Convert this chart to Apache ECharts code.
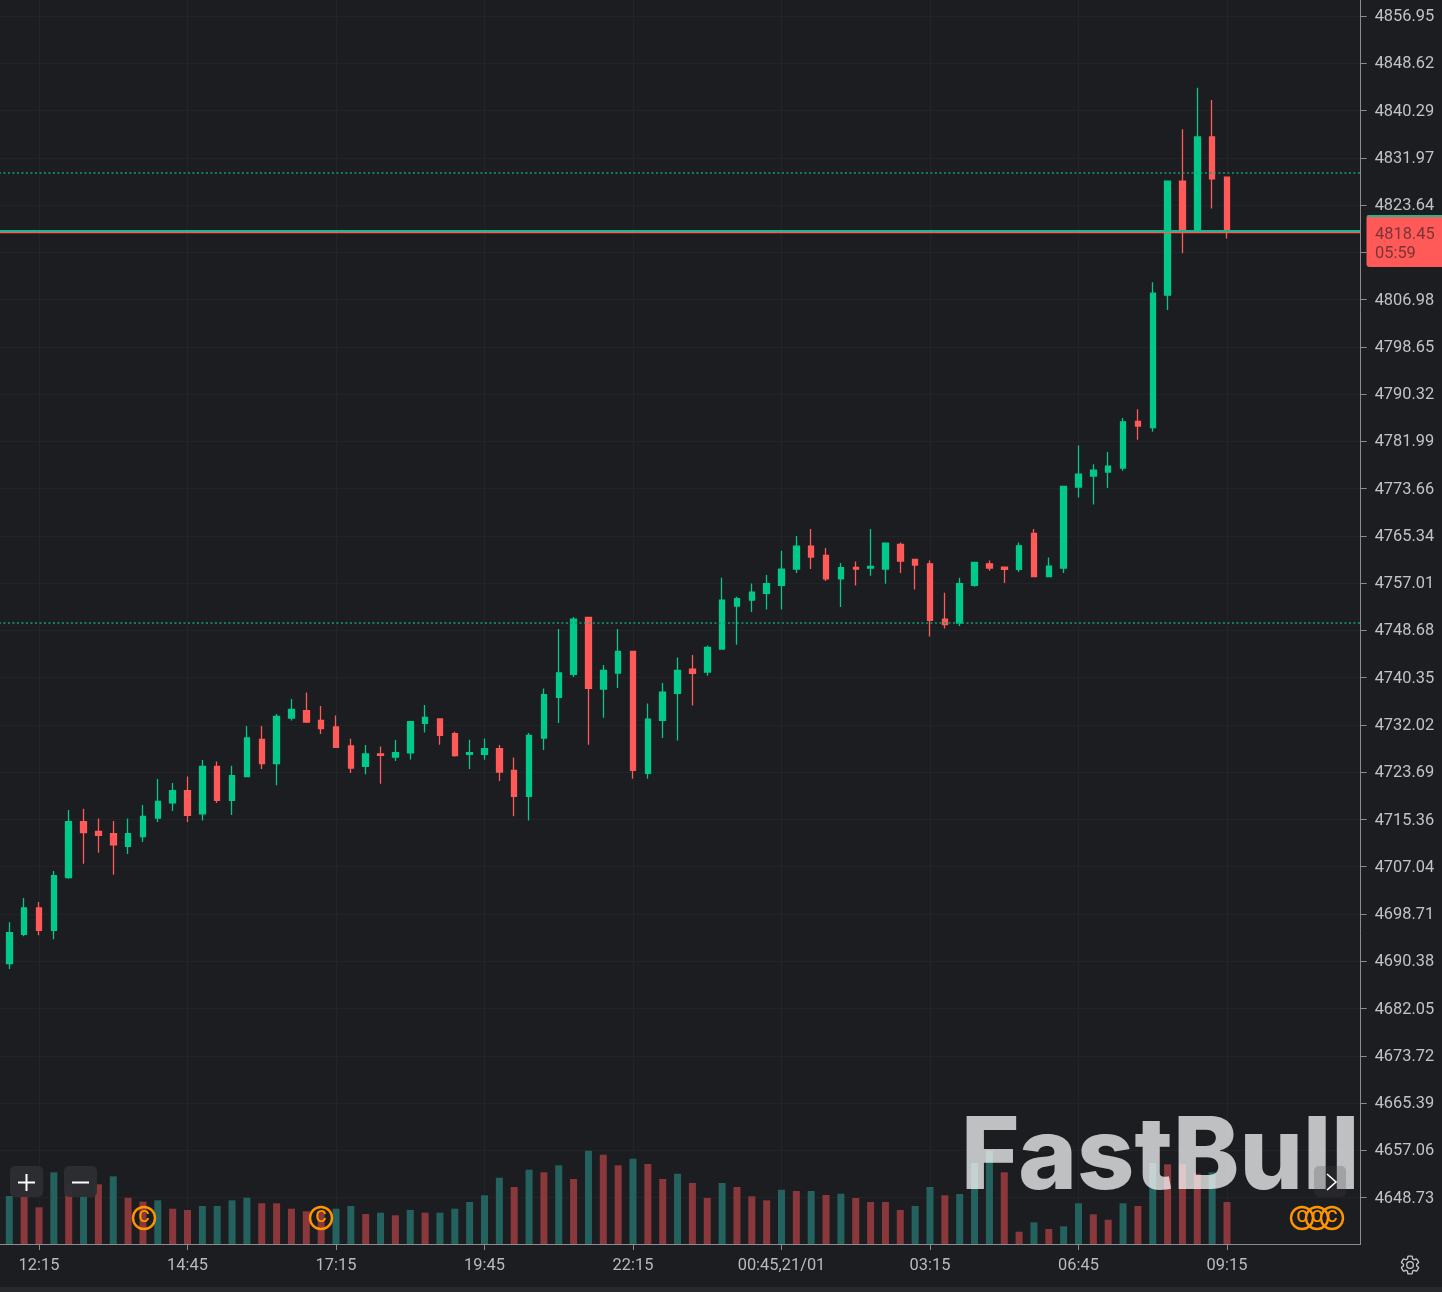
<!DOCTYPE html>
<html>
<head>
<meta charset="utf-8">
<title>FastBull</title>
<style>
html,body{margin:0;padding:0;background:#1c1d21;}
#main{width:1442px;height:1292px;}
</style>
<script src="https://cdn.jsdelivr.net/npm/echarts@6/dist/echarts.min.js"></script>
</head>
<body>
<div id="main"></div>
<script>
var times = ['11:45','12:00','12:15','12:30','12:45','13:00','13:15','13:30','13:45','14:00',
  '14:15','14:30','14:45','15:00','15:15','15:30','15:45','16:00','16:15','16:30',
  '16:45','17:00','17:15','17:30','17:45','18:00','18:15','18:30','18:45','19:00',
  '19:15','19:30','19:45','20:00','20:15','20:30','20:45','21:00','21:15','21:30',
  '21:45','22:00','22:15','22:30','22:45','23:00','23:15','23:30','23:45','00:00',
  '00:15','00:30','00:45,21/01','01:00','01:15','01:30','01:45','02:00','02:15','02:30',
  '02:45','03:00','03:15','03:30','03:45','04:00','04:15','04:30','05:45','06:00',
  '06:15','06:30','06:45','07:00','07:15','07:30','07:45','08:00','08:15','08:30',
  '08:45','09:00','09:15'];
var timeLabels = ['12:15','14:45','17:15','19:45','22:15','00:45,21/01','03:15','06:45','09:15'];

var opens = [4689.96,4695.12,4699.77,4695.83,4705.11,4714.97,4713.27,4712.86,4710.62,4712.33,
  4715.62,4718.27,4720.43,4716.33,4724.72,4718.73,4722.90,4729.47,4725.19,4733.24,
  4734.53,4732.82,4731.66,4728.31,4724.72,4726.90,4726.37,4727.08,4732.29,4733.07,
  4730.48,4726.83,4726.83,4727.83,4724.01,4719.43,4729.72,4736.87,4740.92,4750.96,
  4738.35,4741.17,4744.97,4723.48,4732.82,4737.57,4741.87,4741.34,4745.40,4752.97,
  4754.03,4755.19,4756.60,4759.49,4763.54,4761.88,4757.78,4759.77,4759.66,4759.49,
  4763.82,4761.18,4760.42,4750.68,4749.97,4756.60,4760.42,4759.84,4759.42,4765.76,
  4758.18,4759.66,4773.93,4775.87,4776.58,4777.28,4785.49,4784.43,4807.75,4827.83,
  4818.85,4835.64,4828.54];
var closes = [4695.42,4699.77,4695.83,4705.46,4714.97,4713.04,4712.56,4710.87,4712.86,4715.91,
  4718.55,4720.43,4716.08,4724.72,4718.73,4723.08,4729.72,4725.19,4733.52,4734.76,
  4732.54,4731.36,4728.06,4724.43,4726.90,4726.65,4727.13,4732.59,4733.35,4730.18,
  4726.60,4727.13,4727.83,4723.73,4719.43,4730.18,4737.35,4741.17,4750.68,4738.46,
  4741.63,4744.97,4724.01,4733.06,4737.82,4741.63,4741.10,4745.68,4754.03,4754.26,
  4755.43,4756.90,4759.49,4763.54,4761.60,4757.78,4759.72,4759.49,4759.95,4764.07,
  4760.90,4760.19,4750.43,4749.68,4756.90,4760.65,4759.66,4759.42,4763.59,4758.18,
  4760.02,4774.04,4776.22,4776.93,4777.63,4785.43,4784.68,4808.10,4827.83,4819.03,
  4835.64,4828.24,4819.03];
var lows = [4689.03,4694.77,4694.94,4694.24,4704.93,4707.58,4709.51,4705.64,4709.28,4711.40,
  4714.92,4716.86,4714.92,4715.20,4718.27,4716.15,4722.78,4724.26,4721.37,4732.82,
  4732.36,4730.42,4728.06,4723.55,4723.31,4721.67,4725.67,4725.95,4730.70,4728.54,
  4726.42,4724.26,4725.90,4722.14,4715.91,4715.20,4727.60,4732.36,4740.46,4728.54,
  4733.29,4738.52,4722.55,4722.55,4729.72,4729.29,4735.46,4740.69,4745.40,4746.15,
  4751.91,4752.37,4752.37,4758.78,4759.49,4757.37,4752.79,4756.60,4758.31,4756.90,
  4758.78,4755.89,4747.62,4749.02,4749.45,4756.37,4759.19,4757.02,4758.96,4758.08,
  4758.08,4758.78,4772.10,4770.87,4773.76,4776.80,4782.26,4783.67,4805.16,4815.15,
  4818.67,4823.01,4817.72];
var highs = [4697.24,4701.53,4700.83,4706.29,4717.03,4717.26,4715.55,4715.10,4715.55,4717.92,
  4722.49,4721.79,4722.95,4725.84,4725.59,4724.84,4731.83,4731.83,4733.95,4736.59,
  4737.75,4735.35,4733.70,4729.59,4728.48,4728.24,4729.37,4732.59,4735.53,4733.12,
  4730.83,4729.42,4729.65,4728.48,4726.30,4730.60,4738.46,4748.92,4751.03,4751.03,
  4742.58,4748.92,4744.97,4735.81,4739.41,4743.92,4744.34,4746.03,4757.96,4754.61,
  4756.95,4758.43,4762.71,4765.30,4766.53,4763.18,4760.54,4760.83,4766.53,4764.17,
  4764.17,4761.25,4761.00,4755.31,4757.96,4760.72,4761.00,4759.95,4764.17,4766.53,
  4761.53,4774.11,4781.26,4777.98,4780.10,4786.09,4787.67,4810.04,4827.89,4836.99,
  4844.32,4842.15,4828.64];

var volumes = [48,48,36.7,71.7,60,48,59.7,67.7,46.3,42.3,
  43.7,35.3,34,38,38,43.7,46.3,40.7,40.7,35.3,
  32.7,33,35.3,38,30,31.3,28.7,34,31.3,31.3,
  35.3,42,48.7,66.3,57,74.3,71.7,78.7,65,93.3,
  89.3,78.7,85.3,80,65,70.3,61,46,61,57,
  47.7,43.7,54.3,53,53,49,50.3,46,42,42,
  34,38,57,48.7,50,81,93.7,71.7,12.3,21.7,
  15,17.7,40.7,29.7,24.3,40.7,38,81,79.7,79.7,
  70.3,71.7,42];
var volumeUp = [1,0,0,1,0,1,0,1,0,0,
  1,0,0,1,1,1,1,0,0,0,
  0,0,1,1,0,1,0,1,0,1,
  1,1,1,1,0,1,0,1,0,1,
  0,0,1,0,0,1,0,0,1,0,
  0,0,1,0,1,0,1,0,0,0,
  0,1,1,0,1,1,1,0,0,1,
  0,1,1,0,0,1,0,1,0,0,
  0,1,0];

var priceTicks = [4648.73,4657.06,4665.39,4673.72,4682.05,4690.38,4698.71,4707.04,4715.36,4723.69,
  4732.02,4740.35,4748.68,4757.01,4765.34,4773.66,4781.99,4790.32,4798.65,4806.98,
  4815.31,4823.64,4831.97,4840.29,4848.62,4856.95];
var hiddenPriceLabel = 4815.31;
var lastLine = 4819.05;
var levels = [4829.29, 4750.03];
var lastPrice = '4818.45';
var countdown = '05:59';

var UP = '#00c98b', DOWN = '#ff5a58', FONT = 'Roboto', LABEL_SIZE = 16.4;

// graphic has no plain path type, so the settings icon gets its own shape
echarts.graphic.registerShape('gear', echarts.graphic.extendPath(
  'M19.14 12.94c.04-.3.06-.61.06-.94 0-.32-.02-.64-.07-.94l2.03-1.58c.18-.14.23-.41.12-.61l-1.92-3.32c-.12-.22-.37-.29-.59-.22l-2.39.96c-.5-.38-1.03-.7-1.62-.94l-.36-2.54c-.04-.24-.24-.41-.48-.41h-3.84c-.24 0-.43.17-.47.41l-.36 2.54c-.59.24-1.13.57-1.62.94l-2.39-.96c-.22-.08-.47 0-.59.22L2.74 8.87c-.12.21-.08.47.12.61l2.03 1.58c-.05.3-.09.63-.09.94s.02.64.07.94l-2.03 1.58c-.18.14-.23.41-.12.61l1.92 3.32c.12.22.37.29.59.22l2.39-.96c.5.38 1.03.7 1.62.94l.36 2.54c.05.24.24.41.48.41h3.84c.24 0 .44-.17.47-.41l.36-2.54c.59-.24 1.13-.56 1.62-.94l2.39.96c.22.08.47 0 .59-.22l1.92-3.32c.12-.22.07-.47-.12-.61l-2.01-1.58zM12 15.6c-1.98 0-3.6-1.62-3.6-3.6s1.62-3.6 3.6-3.6 3.6 1.62 3.6 3.6-1.62 3.6-3.6 3.6z',
  {}
));

// one blank slot before the first candle and nine after the last, the chart leaves room on both sides
var categories = [''].concat(times);
for (var k = 0; k < 9; k++) categories.push('');

function isTimeTick(i) { return timeLabels.indexOf(categories[i]) >= 0; }

var candles = times.map(function (t, i) {
  return [i + 1, opens[i], closes[i], lows[i], highs[i]];
});
var volumeBars = times.map(function (t, i) {
  return { value: [i + 1, volumes[i]], itemStyle: { color: volumeUp[i] ? '#24625f' : '#8a383b' } };
});

function button(x, w) {
  return { type: 'rect', z: 60, shape: { x: x, y: 1166, width: w, height: 31, r: 5 }, style: { fill: 'rgba(44,46,51,0.95)' } };
}
function glyphLine(x1, y1, x2, y2) {
  return { type: 'line', z: 61, shape: { x1: x1, y1: y1, x2: x2, y2: y2 }, style: { stroke: '#fff', lineWidth: 2 } };
}
function copyMark(x) {
  return [
    { type: 'circle', z: 50, shape: { cx: x, cy: 1218, r: 11 }, style: { fill: 'transparent', stroke: '#ff9500', lineWidth: 2.4 } },
    { type: 'text', z: 51, x: x, y: 1218, style: { text: 'C', fill: '#ff9500', font: '500 17px ' + FONT, align: 'center', verticalAlign: 'middle' } }
  ];
}

var myChart = echarts.init(document.getElementById('main'));
var option = {
  backgroundColor: '#1c1d21',
  animation: false,
  grid: [
    { left: -5.55, top: 0, width: 1366.2, height: 1244, outerBoundsMode: 'none' },
    { left: -5.55, top: 1144, width: 1366.2, height: 100, outerBoundsMode: 'none' }
  ],
  xAxis: [
    {
      type: 'category', gridIndex: 0, data: categories, boundaryGap: false,
      axisLine: { lineStyle: { color: '#8b8c91', width: 1 } },
      axisTick: { interval: isTimeTick, length: 6, lineStyle: { color: '#8b8c91' } },
      axisLabel: { interval: isTimeTick, color: '#b9babc', fontFamily: FONT, fontSize: LABEL_SIZE, margin: 14 },
      splitLine: { show: true, interval: isTimeTick, lineStyle: { color: '#222428', width: 1 } }
    },
    {
      type: 'category', gridIndex: 1, data: categories, boundaryGap: false, show: false
    }
  ],
  yAxis: [
    {
      type: 'value', gridIndex: 0, position: 'right',
      min: 4640.55, max: 4859.77, scale: true,
      axisLine: { show: true, lineStyle: { color: '#8b8c91', width: 1 } },
      axisTick: { show: true, length: 6, customValues: priceTicks, lineStyle: { color: '#8b8c91' } },
      axisLabel: {
        color: '#c2c3c5', fontFamily: FONT, fontSize: LABEL_SIZE, margin: 14,
        verticalAlign: 'top', padding: [-7, 0, 0, 0],
        customValues: priceTicks.filter(function (v) { return v !== hiddenPriceLabel; }),
        formatter: function (v) { return v.toFixed(2); }
      },
      splitLine: { show: true, lineStyle: { color: '#222428', width: 1 } }
    },
    { type: 'value', gridIndex: 1, min: 0, max: 100, show: false }
  ],
  series: [
    {
      type: 'candlestick',
      xAxisIndex: 0, yAxisIndex: 0,
      barWidth: 6,
      encode: { x: 0, y: [1, 2, 3, 4] },
      data: candles,
      itemStyle: { color: UP, color0: DOWN, borderColor: UP, borderColor0: DOWN, borderWidth: 1.3 },
      markLine: {
        silent: true, symbol: 'none', animation: false, label: { show: false },
        data: [
          { yAxis: levels[0], lineStyle: { color: '#10a075', type: [2, 2.5], width: 1.5 } },
          { yAxis: levels[1], lineStyle: { color: '#10a075', type: [2, 2.5], width: 1.5 } },
          { yAxis: lastLine - 0.2, lineStyle: { color: '#ff5a58', type: 'solid', width: 1.4 } },
          { yAxis: lastLine + 0.05, lineStyle: { color: '#1fb88a', type: 'solid', width: 2 } }
        ]
      }
    },
    {
      type: 'bar',
      xAxisIndex: 1, yAxisIndex: 1,
      barWidth: 7,
      data: volumeBars
    }
  ],
  graphic: [
    { type: 'rect', z: 1, shape: { x: 0, y: 1287, width: 1442, height: 5 }, style: { fill: '#27292d' } },
    // watermark
    { type: 'text', z: 40, x: 961, y: 1109, style: { text: 'FastBull', fill: 'rgba(255,255,255,0.72)', font: '800 100px Inter', align: 'left', verticalAlign: 'top' } },
    // current price tag
    { type: 'rect', z: 45, shape: { x: 1366.5, y: 215, width: 80, height: 52, r: 3 }, style: { fill: DOWN } },
    { type: 'rect', z: 46, shape: { x: 1367.5, y: 215, width: 76, height: 2 }, style: { fill: '#1fb88a' } },
    { type: 'text', z: 47, x: 1375, y: 235, style: { text: lastPrice, fill: '#7a3438', font: LABEL_SIZE + 'px ' + FONT, verticalAlign: 'middle' } },
    { type: 'text', z: 47, x: 1375, y: 254, style: { text: countdown, fill: '#7a3438', font: LABEL_SIZE + 'px ' + FONT, verticalAlign: 'middle' } },
    // zoom and scroll buttons
    button(10, 33), glyphLine(18, 1182.5, 35, 1182.5), glyphLine(26.5, 1174, 26.5, 1191),
    button(64, 33), glyphLine(72, 1182.5, 89, 1182.5),
    { type: 'rect', z: 60, shape: { x: 1314, y: 1166, width: 32, height: 31, r: 5 }, style: { fill: 'rgba(70,72,76,0.25)' } },
    { type: 'polyline', z: 61, shape: { points: [[1327, 1174], [1336, 1182], [1327, 1190]] }, style: { stroke: '#fff', lineWidth: 1.6, fill: 'none' } },
    // settings icon
    { type: 'gear', z: 60, x: 1399, y: 1254, scaleX: 0.92, scaleY: 0.92, style: { fill: 'none', stroke: '#c9cacc', lineWidth: 1.4 } }
  ].concat(copyMark(144), copyMark(321), copyMark(1302), copyMark(1317), copyMark(1332))
};
myChart.setOption(option);
</script>
</body>
</html>
